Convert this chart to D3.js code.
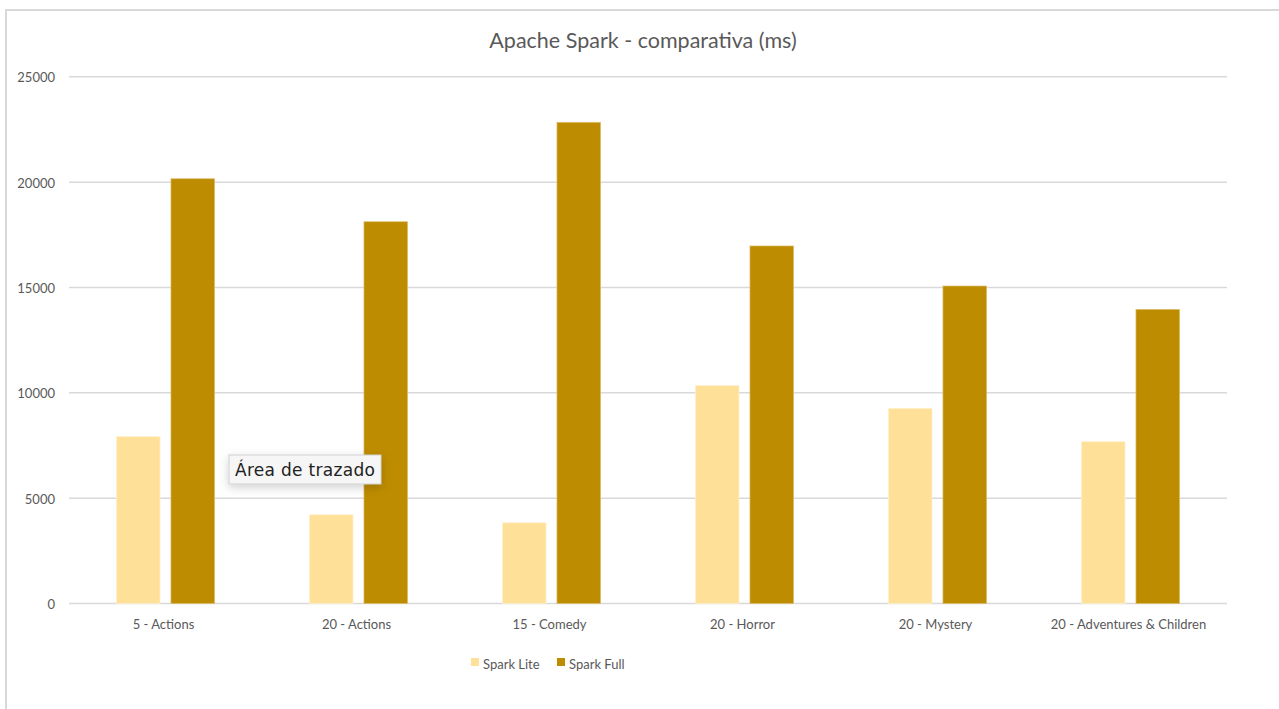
<!DOCTYPE html>
<html>
<head>
<meta charset="utf-8">
<script src="https://d3js.org/d3.v7.min.js"></script>
<style>
  body { margin: 0; background: #fff; }
  svg { display: block; font-family: Lato, "Open Sans", sans-serif; }
</style>
</head>
<body>
<svg id="viz" width="1279" height="709"></svg>
<script>
var categories = ["5 - Actions", "20 - Actions", "15 - Comedy", "20 - Horror", "20 - Mystery", "20 - Adventures & Children"];
var seriesNames = ["Spark Lite", "Spark Full"];
var sparkLite = [7920, 4210, 3830, 10340, 9260, 7680];
var sparkFull = [20160, 18120, 22840, 16970, 15070, 13960];
var yTicks = [0, 5000, 10000, 15000, 20000, 25000];
var colors = ["#ffe099", "#bd8c00"];
var strokes = ["#fff1cc", "#dcbd6a"];

var width = 1279, height = 709;
var svg = d3.select("#viz");

// outer frame (only top and left edges visible)
svg.append("path")
  .attr("d", "M6," + height + "V10H" + width)
  .attr("fill", "none")
  .attr("stroke", "#d9d9d9")
  .attr("stroke-width", 2);

svg.append("text")
  .attr("x", 643).attr("y", 48)
  .attr("text-anchor", "middle")
  .attr("font-size", 21.5)
  .attr("fill", "#595959")
  .text("Apache Spark - comparativa (ms)");

var x0 = d3.scaleBand().domain(categories).range([69, 1227]).padding(0);
var x1 = d3.scaleBand().domain(seriesNames).range([0, x0.bandwidth()])
  .paddingInner(0.2).paddingOuter(0.87);
var y = d3.scaleLinear().domain([0, 25000]).range([603.5, 76.8]);

// gridlines
svg.append("g").selectAll("line").data(yTicks).join("line")
  .attr("x1", 69).attr("x2", 1227)
  .attr("y1", function(d) { return y(d); })
  .attr("y2", function(d) { return y(d); })
  .attr("stroke", "#d9d9d9")
  .attr("stroke-width", 1.5);

// y axis labels
var yAxis = d3.axisLeft(y).tickValues(yTicks).tickSize(0).tickPadding(0).tickFormat(d3.format("d"));
var gy = svg.append("g").attr("transform", "translate(55,1)").call(yAxis);
gy.select(".domain").remove();
gy.selectAll("text").attr("font-size", 13).attr("fill", "#595959").attr("font-family", "Lato, sans-serif");

// x axis labels
var xAxis = d3.axisBottom(x0).tickSize(0).tickPadding(0);
var gx = svg.append("g").attr("transform", "translate(-2,620)").call(xAxis);
gx.select(".domain").remove();
gx.selectAll("text").attr("font-size", 13).attr("fill", "#595959").attr("font-family", "Lato, sans-serif");

// bars
var rows = categories.map(function(c, i) {
  return { cat: c, vals: [sparkLite[i], sparkFull[i]] };
});
var groups = svg.append("g").selectAll("g").data(rows).join("g")
  .attr("transform", function(d) { return "translate(" + x0(d.cat) + ",0)"; });
groups.selectAll("rect")
  .data(function(d) { return d.vals.map(function(v, j) { return { s: seriesNames[j], v: v, j: j }; }); })
  .join("rect")
  .attr("x", function(d) { return x1(d.s); })
  .attr("y", function(d) { return y(d.v); })
  .attr("width", x1.bandwidth())
  .attr("height", function(d) { return y(0) - y(d.v); })
  .attr("fill", function(d) { return colors[d.j]; })
  .attr("stroke", function(d) { return strokes[d.j]; })
  .attr("stroke-width", 0.7);

// legend
var legendX = [471, 557];
var legend = svg.append("g").selectAll("g").data(seriesNames).join("g")
  .attr("transform", function(d, i) { return "translate(" + legendX[i] + ",658)"; });
legend.append("rect").attr("width", 8).attr("height", 8)
  .attr("fill", function(d, i) { return colors[i]; });
legend.append("text").attr("x", 12).attr("y", 11)
  .attr("font-size", 13).attr("fill", "#595959")
  .text(function(d) { return d; });

// tooltip "Área de trazado"
var defs = svg.append("defs");
var f = defs.append("filter").attr("id", "shadow").attr("x", "-30%").attr("y", "-60%").attr("width", "160%").attr("height", "220%");
f.append("feDropShadow").attr("dx", 0).attr("dy", 3).attr("stdDeviation", 5).attr("flood-color", "#000").attr("flood-opacity", 0.18);
var tip = svg.append("g").attr("transform", "translate(229,455)");
tip.append("rect").attr("width", 152).attr("height", 29)
  .attr("fill", "#f6f6f6").attr("stroke", "#d0d0d0").attr("stroke-width", 1)
  .attr("filter", "url(#shadow)");
tip.append("text").attr("x", 6).attr("y", 21)
  .attr("font-size", 17).attr("fill", "#222")
  .attr("font-family", "'DejaVu Sans', sans-serif")
  .attr("textLength", 140)
  .text("Área de trazado");
</script>
</body>
</html>
